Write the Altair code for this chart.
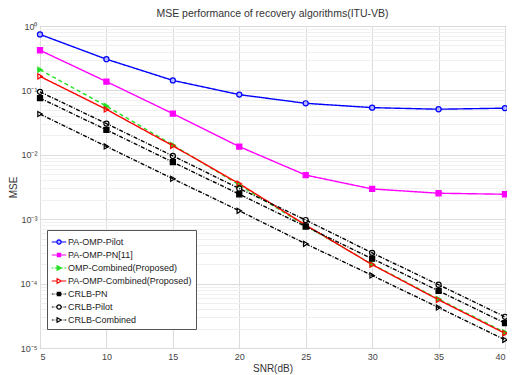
import altair as alt
import pandas as pd

snr = [5, 10, 15, 20, 25, 30, 35, 40]
series = ["PA-OMP-Pilot", "PA-OMP-PN[11]", "OMP-Combined(Proposed)",
          "PA-OMP-Combined(Proposed)", "CRLB-PN", "CRLB-Pilot", "CRLB-Combined"]

pa_omp_pilot = [0.74, 0.305, 0.143, 0.086, 0.063, 0.054, 0.051, 0.053]
pa_omp_pn = [0.42, 0.137, 0.0436, 0.0134, 0.00484, 0.00295, 0.00253, 0.00244]
omp_combined = [0.209, 0.057, 0.0142, 0.0034, 0.00079, 0.000200, 0.0000575, 0.0000175]
pa_omp_combined = [0.165, 0.0507, 0.0138, 0.00356, 0.00081, 0.000197, 0.000056, 0.0000169]
crlb_pn = [0.076, 0.0244, 0.0077, 0.00244, 0.00077, 0.000244, 0.000077, 0.0000244]
crlb_pilot = [0.095, 0.0305, 0.0096, 0.0030, 0.00097, 0.000300, 0.000096, 0.0000305]
crlb_combined = [0.043, 0.0135, 0.00425, 0.00135, 0.000415, 0.000134, 0.0000425, 0.0000134]

values = [pa_omp_pilot, pa_omp_pn, omp_combined, pa_omp_combined,
          crlb_pn, crlb_pilot, crlb_combined]

colors = ["#0000ff", "#ff00ff", "#22e022", "#ff0000", "#000000", "#000000", "#000000"]
shapes = ["circle", "square", "triangle-right", "triangle-right",
          "square", "circle", "triangle-right"]
fills = ["#b8b8ff", "#ff00ff", "#22e022", "transparent",
         "#000000", "transparent", "transparent"]
dashes = [[1, 0], [1, 0], [4, 3], [1, 0], [4, 1.5, 1, 1.5], [4, 1.5, 1, 1.5], [4, 1.5, 1, 1.5]]

# legend glyphs: line (solid / dashed / dash-dot) drawn through a marker
solid = "M-1,0L-0.3,0M0.3,0L1,0"
dashed = "M-1,0L-0.75,0M-0.55,0L-0.3,0M0.3,0L0.55,0M0.75,0L1,0"
dashdot = "M-1,0L-0.75,0M-0.62,0L-0.56,0M-0.45,0L-0.3,0M0.3,0L0.45,0M0.56,0L0.62,0M0.75,0L1,0"
circ = "M-0.3,0A0.3,0.3 0 1,0 0.3,0A0.3,0.3 0 1,0 -0.3,0Z"
sq = "M-0.22,-0.22H0.22V0.22H-0.22Z"
tri = "M-0.26,-0.32L0.32,0L-0.26,0.32Z"
legend_paths = [solid + circ, solid + sq, dashed + tri, solid + tri,
                dashdot + sq, dashdot + circ, dashdot + tri]
legend_fills = ["#b8b8ff", "#ff00ff", "#22e022", "#ffffff", "#000000", "#ffffff", "#ffffff"]

x_ticks = [5, 10, 15, 20, 25, 30, 35, 40]
y_ticks = [k * 10.0 ** e for e in range(-5, 0) for k in range(1, 10)] + [1]

rows = []
for s, vals, f in zip(series, values, fills):
    for x, v in zip(snr, vals):
        rows.append({"SNR": x, "MSE": v, "series": s, "entry": s, "fill": f})
df = pd.DataFrame(rows)

label_expr = ("datum.value == 1 ? '10⁰' : datum.value == 0.1 ? '10⁻¹' : "
              "datum.value == 0.01 ? '10⁻²' : datum.value == 0.001 ? '10⁻³' : "
              "datum.value == 0.0001 ? '10⁻⁴' : datum.value == 0.00001 ? '10⁻⁵' : ''")
major_test = ("datum.value == 1 || datum.value == 0.1 || datum.value == 0.01 || "
              "datum.value == 0.001 || datum.value == 0.0001 || datum.value == 0.00001")

x_enc = alt.X("SNR:Q", scale=alt.Scale(domain=[5, 40], nice=False),
              axis=alt.Axis(values=x_ticks, title="SNR(dB)", grid=True,
                            gridColor="#dcdcdc", ticks=False, labelPadding=4,
                            titlePadding=2, domain=False))
y_enc = alt.Y("MSE:Q", scale=alt.Scale(type="log", domain=[0.00001, 1], nice=False),
              axis=alt.Axis(values=y_ticks, labelExpr=label_expr, title="MSE",
                            grid=True, ticks=False, labelPadding=3, titlePadding=2,
                            domain=False,
                            gridColor={"condition": {"test": major_test, "value": "#dcdcdc"},
                                       "value": "#f0f0f0"}))
color_plain = alt.Color("series:N", scale=alt.Scale(domain=series, range=colors), legend=None)

lines = alt.Chart(df).mark_line(strokeWidth=1.4).encode(
    x=x_enc, y=y_enc, color=color_plain,
    strokeDash=alt.StrokeDash("series:N", scale=alt.Scale(domain=series, range=dashes),
                              legend=None),
)
points = alt.Chart(df).mark_point(size=26, strokeWidth=1.2, opacity=1).encode(
    x=x_enc, y=y_enc, color=color_plain,
    shape=alt.Shape("series:N", scale=alt.Scale(domain=series, range=shapes), legend=None),
    fill=alt.Fill("fill:N", scale=None, legend=None),
)

leg = alt.Legend(title=None, orient="none", legendX=7, legendY=204,
                 strokeColor="#555555", fillColor="white", padding=4,
                 labelFontSize=9, rowPadding=0, symbolSize=210,
                 symbolStrokeWidth=1.2, labelColor="#222222",
                 labelFont="Liberation Sans", labelOffset=1)
legend_layer = alt.Chart(df).transform_filter("false").mark_point(opacity=1).encode(
    color=alt.Color("entry:N", scale=alt.Scale(domain=series, range=colors), legend=leg),
    shape=alt.Shape("entry:N", scale=alt.Scale(domain=series, range=legend_paths), legend=leg),
    fill=alt.Fill("entry:N", scale=alt.Scale(domain=series, range=legend_fills), legend=leg),
)

chart = alt.layer(lines, points, legend_layer).resolve_scale(
    color="independent", shape="independent", fill="independent"
).properties(
    width=465, height=322,
    title=alt.Title("MSE performance of recovery algorithms(ITU-VB)", fontSize=10.5,
                    fontWeight="normal", color="#333333", font="Liberation Sans", offset=3),
    autosize=alt.AutoSizeParams(type="none"),
    padding={"left": 32, "top": 18, "right": 2, "bottom": 26},
).configure_view(stroke="#888888").configure_axis(
    labelFont="Liberation Sans", titleFont="Liberation Sans", labelFontSize=9,
    titleFontSize=10, labelColor="#444444", titleColor="#333333", titleFontWeight="normal"
)

chart.save("out.html", embed_options={"renderer": "svg", "actions": False})
